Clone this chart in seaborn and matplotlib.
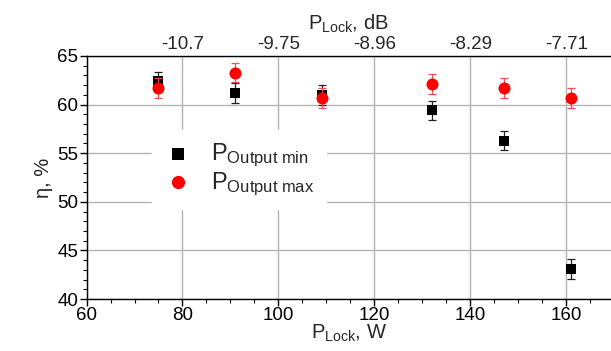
import matplotlib
matplotlib.use("Agg")
import matplotlib.pyplot as plt
from matplotlib.ticker import MultipleLocator
import seaborn as sns
import pandas as pd

# Data
p_lock_w = [75, 91, 109, 132, 147, 161]
eta_min = [62.4, 61.2, 61.0, 59.4, 56.3, 43.1]
eta_max = [61.7, 63.3, 60.7, 62.1, 61.7, 60.7]
err_min = [1.0, 1.0, 1.0, 1.0, 1.0, 1.0]
err_max = [1.0, 1.0, 1.0, 1.0, 1.0, 1.0]
top_tick_pos = [80, 100, 120, 140, 160]
top_tick_labels = ["-10.7", "-9.75", "-8.96", "-8.29", "-7.71"]

sns.set_theme(style="white")
plt.rcParams['font.family'] = ['Liberation Sans', 'DejaVu Sans']
plt.rcParams['mathtext.fontset'] = 'custom'
plt.rcParams['mathtext.rm'] = 'Liberation Sans'
plt.rcParams['mathtext.it'] = 'Liberation Sans'
plt.rcParams['mathtext.default'] = 'regular'

fig = plt.figure(figsize=(6.11, 3.51), dpi=100)
ax = fig.add_axes([0.1416, 0.148, 1.0 - 0.1416, 0.8405 - 0.148])

df_min = pd.DataFrame({"x": p_lock_w, "y": eta_min})
df_max = pd.DataFrame({"x": p_lock_w, "y": eta_max})

ax.errorbar(p_lock_w, eta_min, yerr=err_min, fmt='none', ecolor='#222222',
            elinewidth=0.9, capsize=3, capthick=0.9, zorder=3)
sns.scatterplot(data=df_min, x="x", y="y", marker='s', s=55, color='black',
                edgecolor='black', linewidth=0, ax=ax, zorder=4,
                label=r'$P_{Output\ min}$')
ax.errorbar(p_lock_w, eta_max, yerr=err_max, fmt='none', ecolor='#e85050',
            elinewidth=0.9, capsize=3, capthick=0.9, zorder=5)
sns.scatterplot(data=df_max, x="x", y="y", marker='o', s=75, color='#ff0000',
                edgecolor='#ff0000', linewidth=0, ax=ax, zorder=6,
                label=r'$P_{Output\ max}$')

ax.set_xlim(60, 169.3)
ax.set_ylim(40, 65)
ax.xaxis.set_major_locator(MultipleLocator(20))
ax.xaxis.set_minor_locator(MultipleLocator(5))
ax.yaxis.set_major_locator(MultipleLocator(5))
ax.yaxis.set_minor_locator(MultipleLocator(1))
ax.grid(True, which='major', color='#b4b4b4', linewidth=1.0, zorder=0)
ax.set_axisbelow(True)

for side in ['left', 'bottom', 'top']:
    ax.spines[side].set_color('black')
    ax.spines[side].set_linewidth(1.0)
ax.spines['right'].set_visible(False)

ax.tick_params(axis='both', which='major', direction='out', length=5, width=1,
               labelsize=13.5, colors='black', pad=1, bottom=True, left=True)
ax.tick_params(axis='both', which='minor', direction='out', length=3, width=0.8,
               colors='black', bottom=True, left=True)

ax.set_xlabel(r'$P_{Lock}$, W', fontsize=14.5, labelpad=-1)
ax.set_ylabel(r'η, %', fontsize=14.5, labelpad=3)

sec = ax.secondary_xaxis('top')
sec.set_xticks(top_tick_pos)
sec.set_xticklabels(top_tick_labels)
sec.tick_params(axis='x', length=0, labelsize=13.5, pad=2)
sec.set_xlabel(r'$P_{Lock}$, dB', fontsize=14.5, labelpad=5)
sec.spines['top'].set_visible(False)

leg = ax.legend(loc='upper left', bbox_to_anchor=(0.102, 0.745), frameon=True,
                fontsize=17, handletextpad=0.8, borderpad=0.5,
                labelspacing=0.05, handlelength=1.2, markerscale=1.1)
leg.get_frame().set_facecolor('white')
leg.get_frame().set_edgecolor('white')
leg.get_frame().set_alpha(1)
leg.set_zorder(2)

fig.savefig("out.png", dpi=100)
